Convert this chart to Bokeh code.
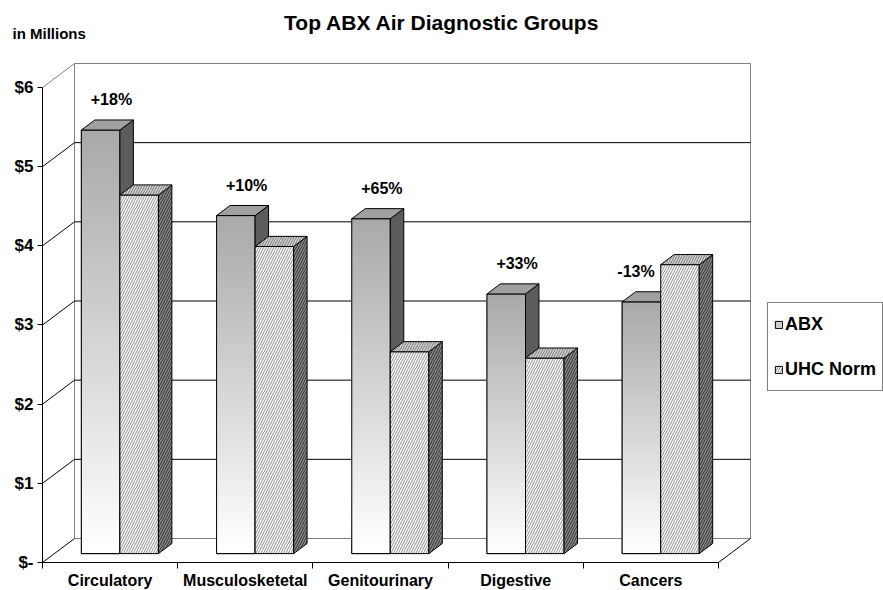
import numpy as np
from bokeh.plotting import figure
from bokeh.models import Range1d, FixedTicker, Label, Legend, LegendItem, ColumnDataSource
from bokeh.core.properties import value
from bokeh.embed import file_html
from bokeh.resources import INLINE

# ---------------- data ----------------
categories = ["Circulatory", "Musculosketetal", "Genitourinary", "Digestive", "Cancers"]
abx = [5.35, 4.27, 4.23, 3.28, 3.18]
uhc_norm = [4.53, 3.88, 2.55, 2.47, 3.65]
pct_labels = ["+18%", "+10%", "+65%", "+33%", "-13%"]
y_ticks = [0, 1, 2, 3, 4, 5, 6]
y_tick_labels = ["$-", "$1", "$2", "$3", "$4", "$5", "$6"]
series_names = ["ABX", "UHC Norm"]
title_text = "Top ABX Air Diagnostic Groups"
unit_text = "in Millions"

# ---------------- layout / geometry ----------------
W, H = 883, 590
LEFT, BOTTOM = 42, 28          # pixel position of the value axis / category axis
PX_PER_CAT = 135.2
PX_PER_UNIT = 79.17
DX = 32 / PX_PER_CAT           # depth offset of the walls (x units)
DY = 24 / PX_PER_UNIT          # depth offset of the walls (y units)
F1, F2 = 0.37, 0.79            # bar front / back depth fraction
GROUP_LEFT, BAR_W = 0.2, 0.285
FONT = "Liberation Sans"
n = len(categories)
vmax = y_ticks[-1]

p = figure(width=W, height=H,
           x_range=Range1d(-LEFT / PX_PER_CAT, (W - LEFT) / PX_PER_CAT),
           y_range=Range1d(-BOTTOM / PX_PER_UNIT, (H - BOTTOM) / PX_PER_UNIT),
           output_backend="svg", toolbar_location=None,
           min_border_left=0, min_border_bottom=0,
           min_border_top=0, min_border_right=0)
p.outline_line_color = None
p.grid.visible = False
p.background_fill_color = "white"
p.border_fill_color = "white"

# ---------------- walls ----------------
p.patch([0, n, n + DX, DX], [0, 0, DY, DY], fill_color="white", line_color=None)
p.patch([0, DX, DX, 0], [0, DY, vmax + DY, vmax], fill_color="white", line_color=None)
p.quad(left=[DX], right=[n + DX], bottom=[DY], top=[vmax + DY],
       fill_color="white", line_color="#808080", line_width=1)
inner = [t for t in y_ticks if 0 < t < vmax]
p.segment(x0=[DX] * len(inner), y0=[t + DY for t in inner],
          x1=[n + DX] * len(inner), y1=[t + DY for t in inner],
          line_color="black", line_width=1)
lw = [t for t in y_ticks if t < vmax]
p.segment(x0=[0] * len(lw), y0=lw, x1=[DX] * len(lw), y1=[t + DY for t in lw],
          line_color="black", line_width=1)
p.segment(x0=[0], y0=[vmax], x1=[DX], y1=[vmax + DY], line_color="#808080", line_width=1)
p.segment(x0=[n], y0=[0], x1=[n + DX], y1=[DY], line_color="black", line_width=1)


# ---------------- bars ----------------
def bar_geom(vals, s):
    sdx = (F2 - F1) * DX
    sdy = (F2 - F1) * DY
    fx0, fx1, fy0, fy1 = [], [], [], []
    side_xs, side_ys, top_xs, top_ys = [], [], [], []
    for i, v in enumerate(vals):
        x0 = i + GROUP_LEFT + s * BAR_W + F1 * DX
        x1 = x0 + BAR_W
        y0 = F1 * DY
        y1 = y0 + v
        fx0.append(x0); fx1.append(x1); fy0.append(y0); fy1.append(y1)
        side_xs.append([x1, x1 + sdx, x1 + sdx, x1])
        side_ys.append([y0, y0 + sdy, y1 + sdy, y1])
        top_xs.append([x0, x1, x1 + sdx, x0 + sdx])
        top_ys.append([y1, y1, y1 + sdy, y1 + sdy])
    return fx0, fx1, fy0, fy1, side_xs, side_ys, top_xs, top_ys


# ABX: base face (used by the legend), gradient strips, outline, side, top
fx0, fx1, fy0, fy1, sxs, sys_, txs, tys = bar_geom(abx, 0)
r_abx = p.quad(left=fx0, right=fx1, bottom=fy0, top=fy1, fill_color="#cdcdcd",
               line_color="black", line_width=1)
NS = 60
gl, gr, gb, gt, gc = [], [], [], [], []
for i in range(n):
    for k in range(NS):
        t = k / NS
        c = int(round(255 - (255 - 168) * t))
        gl.append(fx0[i]); gr.append(fx1[i])
        gb.append(fy0[i] + (fy1[i] - fy0[i]) * t); gt.append(fy1[i])
        gc.append("#%02x%02x%02x" % (c, c, c))
p.quad(left=gl, right=gr, bottom=gb, top=gt, fill_color=gc, line_color=None)
p.quad(left=fx0, right=fx1, bottom=fy0, top=fy1, fill_color=None,
       line_color="black", line_width=1)
p.patches(sxs, sys_, fill_color="#5c5c5c", line_color="black", line_width=1)
p.patches(txs, tys, fill_color="#a0a0a0", line_color="black", line_width=1)

# UHC Norm: hatched faces
fx0, fx1, fy0, fy1, sxs, sys_, txs, tys = bar_geom(uhc_norm, 1)
r_uhc = p.quad(left=fx0, right=fx1, bottom=fy0, top=fy1, fill_color="white",
               hatch_pattern="/", hatch_color="#8a8a8a", hatch_scale=5, hatch_weight=1,
               line_color="black", line_width=1)
p.patches(sxs, sys_, fill_color="#8a8a8a", hatch_pattern="/", hatch_color="#303030",
          hatch_scale=5, hatch_weight=1, line_color="black", line_width=1)
p.patches(txs, tys, fill_color="#d4d4d4", hatch_pattern="/", hatch_color="#777777",
          hatch_scale=5, hatch_weight=1, line_color="black", line_width=1)

# ---------------- percentage labels ----------------
# placed over the ABX bar, nudged away from a taller neighbouring bar
lab_x = []
for i in range(n):
    cx = i + GROUP_LEFT + F1 * DX + BAR_W / 2
    lab_x.append(cx + (0.08 if abx[i] >= uhc_norm[i] else -0.04))
lab_src = ColumnDataSource(dict(
    x=lab_x,
    y=[F1 * DY + v + 0.38 for v in abx],
    t=pct_labels))
p.text(x="x", y="y", text="t", source=lab_src, text_align="center",
       text_baseline="middle", text_font=value(FONT), text_font_style="bold",
       text_font_size="16px", text_color="black")

# ---------------- axes ----------------
xa = p.xaxis[0]
xa.fixed_location = 0
xa.ticker = FixedTicker(ticks=[i + 0.5 for i in range(n)], minor_ticks=list(range(n + 1)))
xa.major_label_overrides = {i + 0.5: c for i, c in enumerate(categories)}
xa.bounds = (0, n)
xa.axis_line_color = "black"
xa.major_tick_out = 0
xa.major_tick_in = 0
xa.minor_tick_out = 6
xa.minor_tick_in = 0
xa.minor_tick_line_color = "black"
xa.major_label_standoff = 3
xa.major_label_text_font = FONT
xa.major_label_text_font_style = "bold"
xa.major_label_text_font_size = "16px"
xa.major_label_text_color = "black"

ya = p.yaxis[0]
ya.fixed_location = 0
ya.ticker = FixedTicker(ticks=y_ticks, minor_ticks=[])
ya.major_label_overrides = {t: l for t, l in zip(y_ticks, y_tick_labels)}
ya.bounds = (0, vmax)
ya.axis_line_color = "black"
ya.major_tick_out = 5
ya.major_tick_in = 0
ya.major_tick_line_color = "black"
ya.minor_tick_line_color = None
ya.major_label_standoff = 4
ya.major_label_text_font = FONT
ya.major_label_text_font_style = "bold"
ya.major_label_text_font_size = "17px"
ya.major_label_text_color = "black"

# ---------------- legend ----------------
legend = Legend(items=[LegendItem(label=series_names[0], renderers=[r_abx]),
                       LegendItem(label=series_names[1], renderers=[r_uhc])],
                location=(767, 199), padding=6, spacing=15,
                glyph_width=9, glyph_height=9, label_height=30,
                label_standoff=2,
                label_text_font=FONT, label_text_font_style="bold",
                label_text_font_size="18px", label_text_color="black",
                border_line_color="black", border_line_width=1,
                background_fill_color="white", background_fill_alpha=1,
                margin=0)
p.add_layout(legend)

# ---------------- titles ----------------
p.add_layout(Label(x=W / 2, y=H - 22, x_units="screen", y_units="screen",
                   text=title_text, text_align="center", text_baseline="middle",
                   text_font=FONT, text_font_style="bold", text_font_size="21px",
                   text_color="black"))
p.add_layout(Label(x=12, y=H - 33, x_units="screen", y_units="screen",
                   text=unit_text, text_align="left", text_baseline="middle",
                   text_font=FONT, text_font_style="bold", text_font_size="15px",
                   text_color="black"))

open("out.html", "w").write(file_html(p, INLINE))
